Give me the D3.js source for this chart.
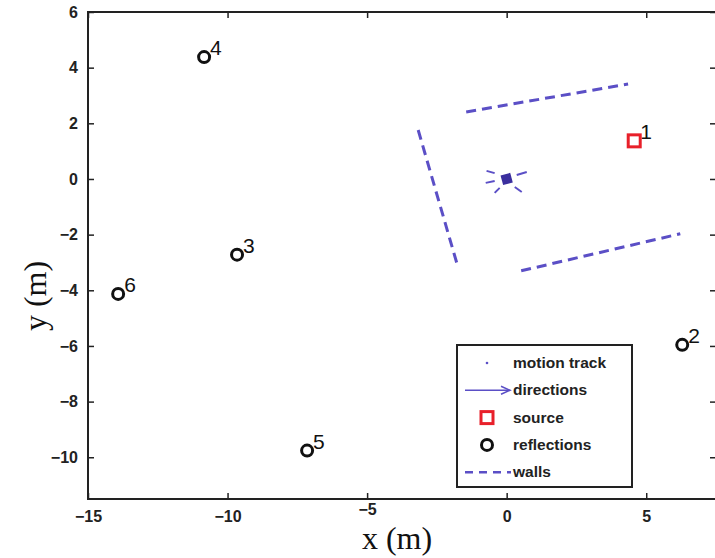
<!DOCTYPE html>
<html>
<head>
<meta charset="utf-8">
<script src="https://cdn.jsdelivr.net/npm/d3@7"></script>
<style>
  body { margin: 0; background: #fff; }
  svg { display: block; }
  .tick text { font-family: "Liberation Sans", Arial, sans-serif; font-weight: bold; font-size: 16px; fill: #222; }
</style>
</head>
<body>
<svg id="chart" width="715" height="558"></svg>
<script>
// reflections (black circles)
var reflections = [
  {id: 2, x: 6.29, y: -5.96},
  {id: 3, x: -9.66, y: -2.72},
  {id: 4, x: -10.84, y: 4.38},
  {id: 5, x: -7.15, y: -9.76},
  {id: 6, x: -13.92, y: -4.13}
];
// source (red square)
var sources = [{id: 1, x: 4.57, y: 1.37}];
// walls (dashed)
var walls = [
  [{x: -3.17, y: 1.76}, {x: -1.77, y: -3.08}],
  [{x: -1.45, y: 2.41}, {x: 4.35, y: 3.41}],
  [{x: 0.52, y: -3.30}, {x: 6.22, y: -1.97}]
];
// motion track and direction arrows
var track = [{x: 0, y: 0}];
var directions = [
  {x0: -0.43, y0: 0.21, x1: -0.72, y1: 0.29},
  {x0: -0.43, y0: -0.07, x1: -0.75, y1: -0.14},
  {x0: -0.25, y0: -0.32, x1: -0.43, y1: -0.50},
  {x0: 0.29, y0: -0.29, x1: 0.54, y1: -0.47},
  {x0: 0.36, y0: 0.14, x1: 0.72, y1: 0.25}
];
var xTicks = [-15, -10, -5, 0, 5];
var yTicks = [6, 4, 2, 0, -2, -4, -6, -8, -10];
var legendItems = ["motion track", "directions", "source", "reflections", "walls"];

(function() {
  var purple = "#5b4fc6";
  var svg = d3.select("#chart");
  var mLeft = 88, mRight = 716, mTop = 12, mBottom = 499;
  var fmt = d => d < 0 ? "\u2212" + Math.abs(d) : d;

  var x = d3.scaleLinear().domain([-15, 7.5]).range([mLeft, mRight]);
  var y = d3.scaleLinear().domain([-11.5, 6]).range([mBottom, mTop]);

  // axes with inward ticks on all four sides
  svg.append("g").attr("transform", "translate(0," + mBottom + ")")
    .call(d3.axisBottom(x).tickValues(xTicks).tickSizeInner(-6).tickSizeOuter(0).tickPadding(12).tickFormat(fmt))
    .call(g => g.select(".domain").remove())
    .call(g => g.selectAll(".tick text").filter(d => d === -5).attr("dy", "0.25em"));
  svg.append("g").attr("transform", "translate(0," + mTop + ")")
    .call(d3.axisTop(x).tickValues(xTicks).tickSizeInner(-6).tickSizeOuter(0).tickFormat(""))
    .call(g => g.select(".domain").remove());
  svg.append("g").attr("transform", "translate(" + mLeft + ",0)")
    .call(d3.axisLeft(y).tickValues(yTicks).tickSizeInner(-6).tickSizeOuter(0).tickPadding(10).tickFormat(fmt))
    .call(g => g.select(".domain").remove());
  svg.append("g").attr("transform", "translate(" + mRight + ",0)")
    .call(d3.axisRight(y).tickValues(yTicks).tickSizeInner(-6).tickSizeOuter(0).tickFormat(""))
    .call(g => g.select(".domain").remove());
  svg.selectAll(".tick line").attr("stroke", "#222").attr("stroke-width", 1.5);

  svg.append("rect").attr("x", mLeft).attr("y", mTop)
    .attr("width", mRight - mLeft).attr("height", mBottom - mTop)
    .attr("fill", "none").attr("stroke", "#222").attr("stroke-width", 2);

  // walls
  var line = d3.line().x(d => x(d.x)).y(d => y(d.y));
  svg.selectAll(".wall").data(walls).join("path")
    .attr("d", line).attr("fill", "none").attr("stroke", purple)
    .attr("stroke-width", 3).attr("stroke-dasharray", "10,6");

  // directions
  svg.selectAll(".dir").data(directions).join("line")
    .attr("x1", d => x(d.x0)).attr("y1", d => y(d.y0))
    .attr("x2", d => x(d.x1)).attr("y2", d => y(d.y1))
    .attr("stroke", purple).attr("stroke-width", 2);

  // motion track
  svg.selectAll(".track").data(track).join("rect")
    .attr("x", d => x(d.x) - 5).attr("y", d => y(d.y) - 5)
    .attr("width", 10).attr("height", 10)
    .attr("transform", d => "rotate(-15," + x(d.x) + "," + y(d.y) + ")")
    .attr("fill", "#3b2f9e");

  // source
  svg.selectAll(".src").data(sources).join("rect")
    .attr("x", d => x(d.x) - 6).attr("y", d => y(d.y) - 6)
    .attr("width", 12).attr("height", 12)
    .attr("fill", "none").attr("stroke", "#e8202a").attr("stroke-width", 3);

  // reflections
  svg.selectAll(".refl").data(reflections).join("circle")
    .attr("cx", d => x(d.x)).attr("cy", d => y(d.y)).attr("r", 5.5)
    .attr("fill", "none").attr("stroke", "#111").attr("stroke-width", 3);

  // point numbers
  svg.selectAll(".num").data(reflections.concat(sources)).join("text")
    .attr("x", d => x(d.x) + 6).attr("y", d => y(d.y) - 2)
    .attr("font-family", "Liberation Sans, Arial, sans-serif").attr("font-size", 21)
    .attr("fill", "#111").text(d => d.id);

  // axis labels
  svg.append("text").attr("x", 397).attr("y", 549).attr("text-anchor", "middle")
    .attr("font-family", "Liberation Serif, Times New Roman, serif").attr("font-size", 32)
    .attr("fill", "#111").text("x (m)");
  svg.append("text").attr("transform", "translate(46,296) rotate(-90)").attr("text-anchor", "middle")
    .attr("font-family", "Liberation Serif, Times New Roman, serif").attr("font-size", 32)
    .attr("fill", "#111").text("y (m)");

  // legend
  var lg = svg.append("g").attr("transform", "translate(457,345)");
  lg.append("rect").attr("width", 175).attr("height", 142)
    .attr("fill", "#fff").attr("stroke", "#222").attr("stroke-width", 2);
  var rowY = i => 18 + i * 27.3;
  lg.selectAll(".lt").data(legendItems).join("text")
    .attr("x", 56).attr("y", (d, i) => rowY(i) + 5)
    .attr("font-family", "Liberation Sans, Arial, sans-serif").attr("font-weight", "bold")
    .attr("font-size", 15.5).attr("fill", "#222").text(d => d);
  lg.append("circle").attr("cx", 30).attr("cy", rowY(0)).attr("r", 1.3).attr("fill", purple);
  lg.append("line").attr("x1", 8).attr("x2", 52).attr("y1", rowY(1)).attr("y2", rowY(1))
    .attr("stroke", purple).attr("stroke-width", 1.5);
  lg.append("path").attr("d", "M44," + (rowY(1) - 4) + "L53," + rowY(1) + "L44," + (rowY(1) + 4))
    .attr("fill", "none").attr("stroke", purple).attr("stroke-width", 1.5);
  lg.append("rect").attr("x", 24).attr("y", rowY(2) - 6).attr("width", 12).attr("height", 12)
    .attr("fill", "none").attr("stroke", "#e8202a").attr("stroke-width", 3);
  lg.append("circle").attr("cx", 30).attr("cy", rowY(3)).attr("r", 5.5)
    .attr("fill", "none").attr("stroke", "#111").attr("stroke-width", 3);
  lg.append("line").attr("x1", 8).attr("x2", 54).attr("y1", rowY(4)).attr("y2", rowY(4))
    .attr("stroke", purple).attr("stroke-width", 2.5).attr("stroke-dasharray", "8,6");
})();
</script>
</body>
</html>
